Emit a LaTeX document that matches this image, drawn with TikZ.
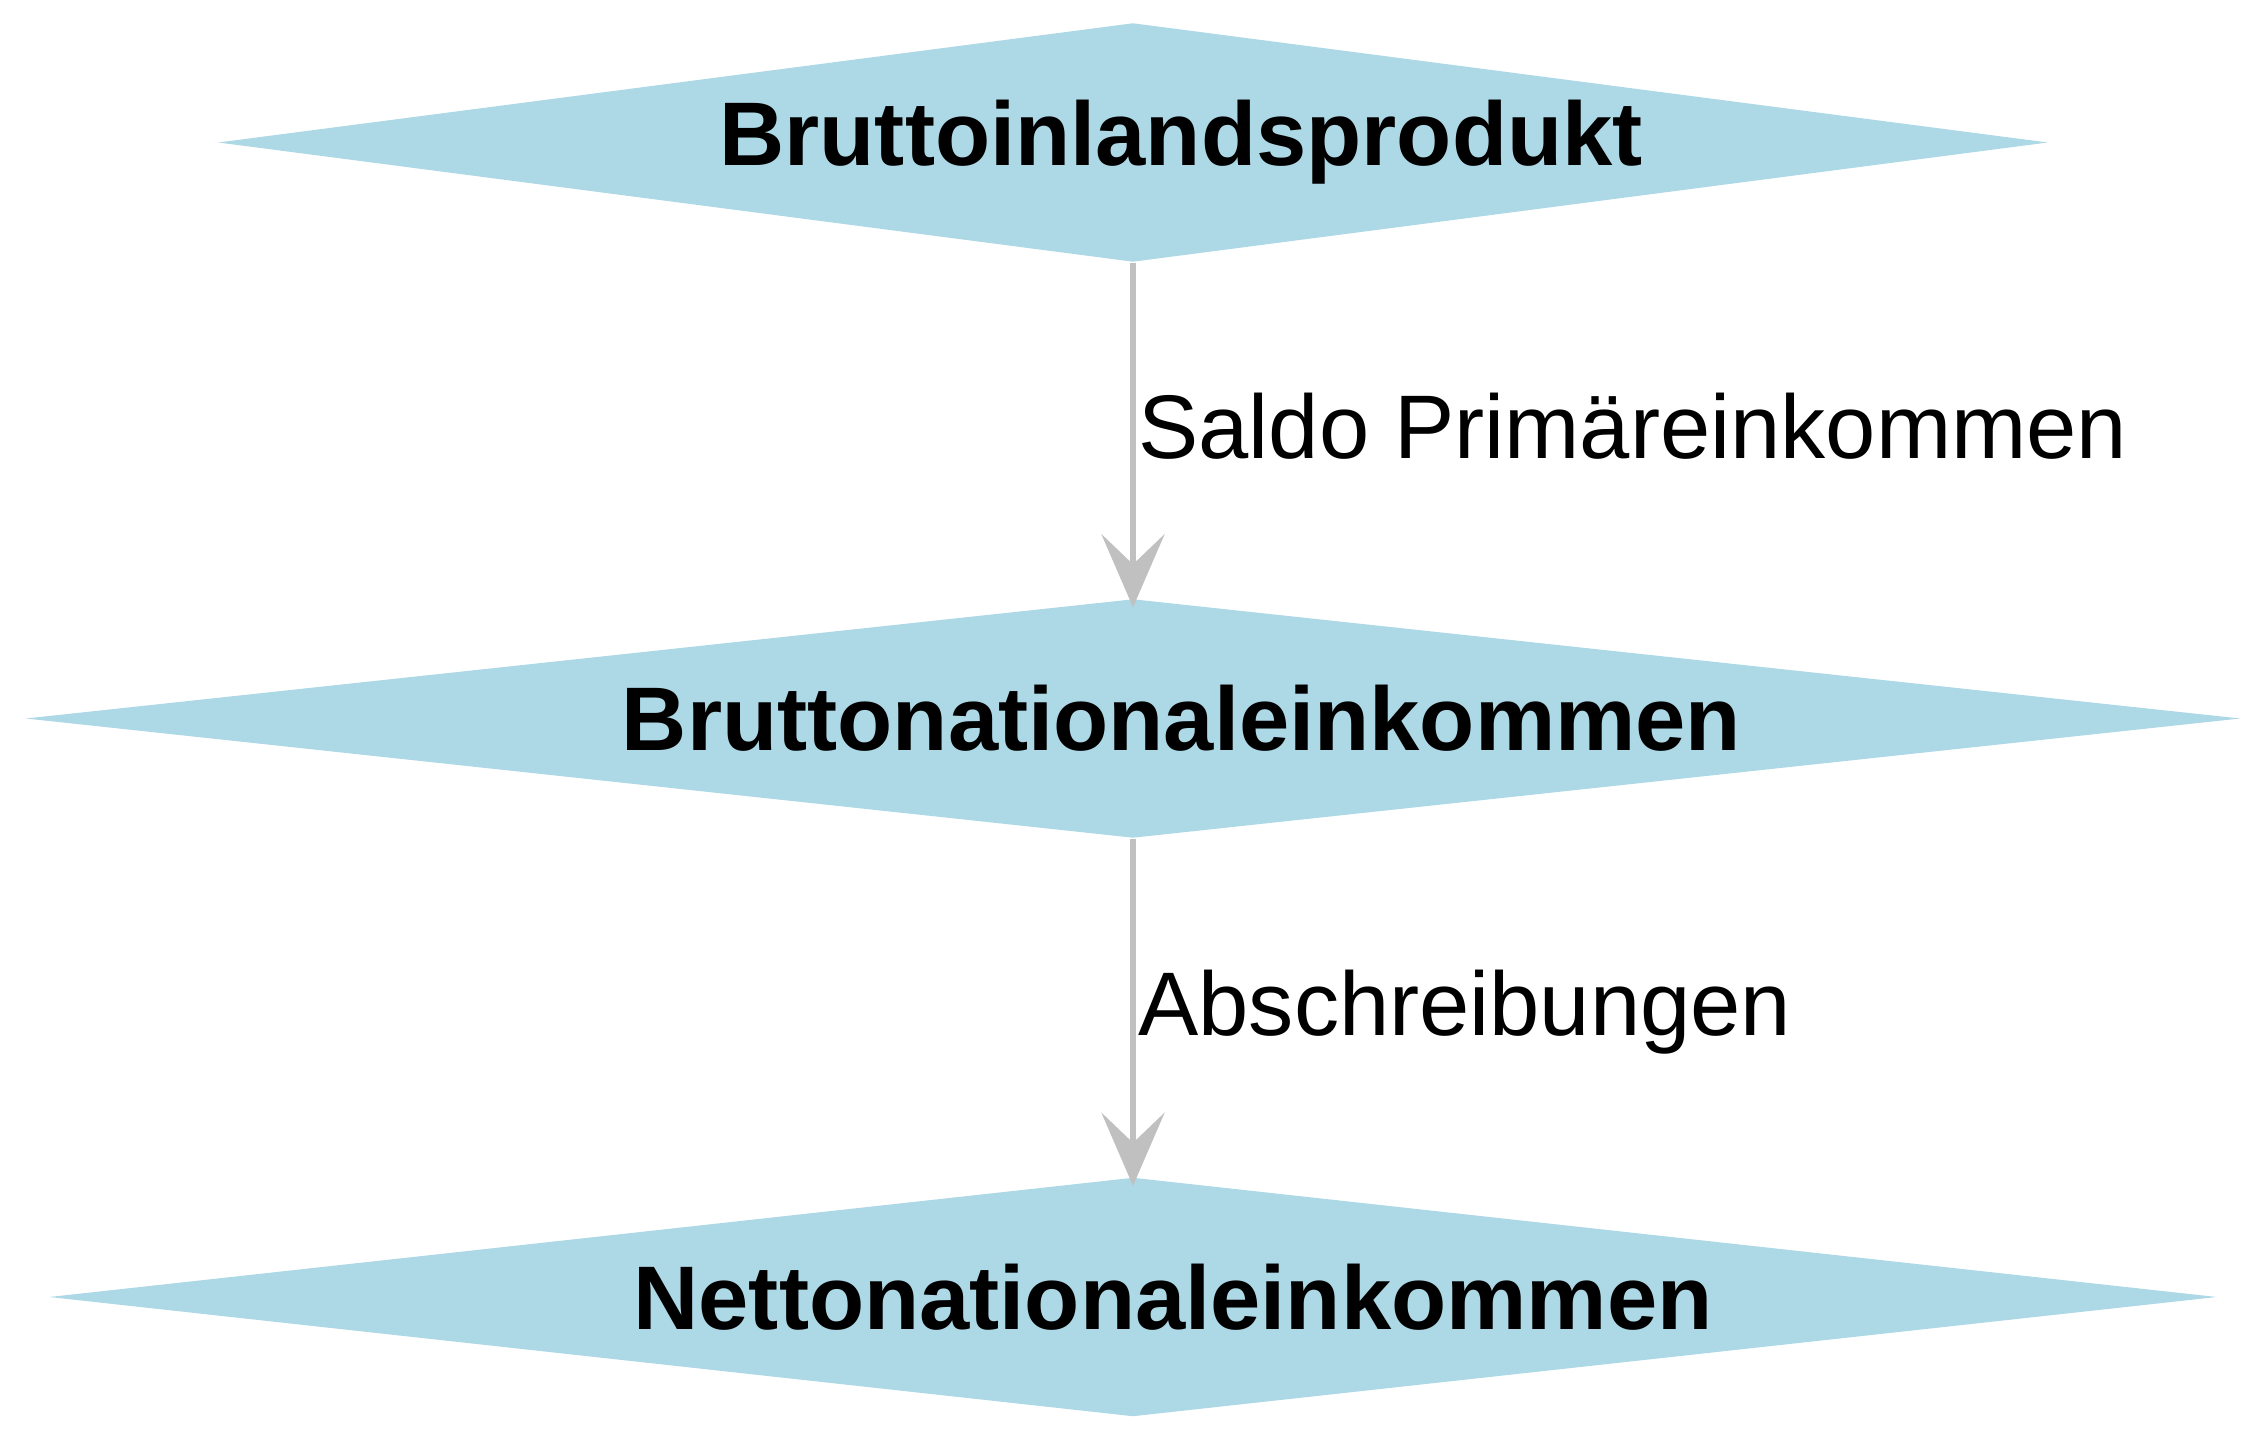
\documentclass[tikz,border=0pt]{standalone}
\usepackage{fontspec}
\setmainfont{Liberation Sans}
\usetikzlibrary{arrows.meta,shapes.geometric}
\definecolor{boxblue}{HTML}{ADD8E6}
\definecolor{edgegray}{HTML}{C0C0C0}

\begin{document}
\begin{tikzpicture}[
    kennzahl/.style={diamond, fill=boxblue, inner sep=0pt, aspect=7.7,
      minimum height=2.39cm, font=\fontsize{25.7}{30}\selectfont\bfseries,
      execute at begin node={\hspace*{#1}}},
    flow/.style={draw=edgegray, line width=0.067cm,
      -{Stealth[length=7.3mm, width=6.3mm, inset=3mm]}, shorten >=-0.09cm},
    flowlabel/.style={anchor=base west, inner sep=0pt, xshift=0.02cm,
      yshift=-0.28cm, font=\fontsize{25.7}{30}\selectfont}
  ]
  \useasboundingbox (0,0) rectangle (22.67,14.40);

  % Kennzahlen (diamonds), text sits a little right of centre
  \node[kennzahl=0.96cm, minimum width=18.3cm]  (bip) at (11.33,12.975) {Bruttoinlandsprodukt};
  \node[kennzahl=0.97cm, minimum width=22.15cm] (bne) at (11.33,7.215)  {Bruttonationaleinkommen};
  \node[kennzahl=0.80cm, minimum width=21.68cm] (nne) at (11.33,1.43)   {Nettonationaleinkommen};

  % Uebergaenge
  \draw[flow] (bip) -- node[flowlabel] {Saldo Primäreinkommen} (bne);
  \draw[flow] (bne) -- node[flowlabel] {Abschreibungen} (nne);

\end{tikzpicture}
\end{document}
